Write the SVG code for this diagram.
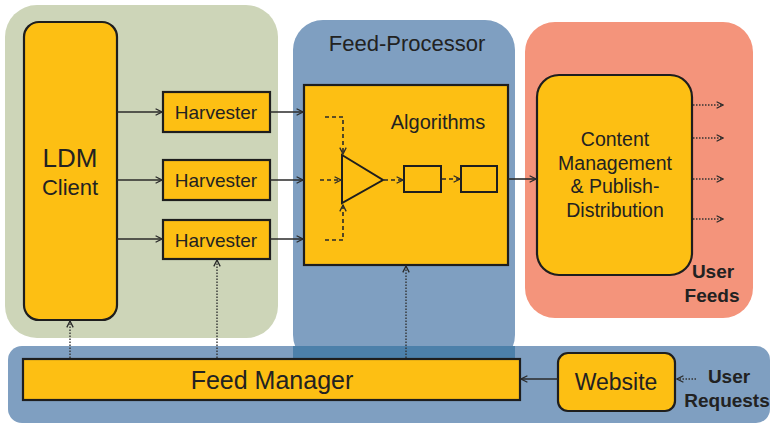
<svg xmlns="http://www.w3.org/2000/svg" width="772" height="426" viewBox="0 0 772 426">
<defs>
<style>
.box{fill:#fdbf13;stroke:#1e1e1e;stroke-width:2.2}
.t{font-family:"Liberation Sans",Arial,sans-serif;fill:#222;text-anchor:middle}
.b{font-weight:bold}
.ln{stroke:#2a2a2a;stroke-width:1.6;fill:none}
.dash{stroke:#2a2a2a;stroke-width:1.6;fill:none;stroke-dasharray:4 3}
.dot{stroke:#333;stroke-width:1.4;fill:none;stroke-dasharray:1.5 1.5}
</style>
<marker id="ah" viewBox="0 0 10 10" refX="9" refY="5" markerWidth="8" markerHeight="8" markerUnits="userSpaceOnUse" orient="auto">
<path d="M1,1 L9,5 L1,9" fill="none" stroke="#2a2a2a" stroke-width="1.6"/>
</marker>
</defs>
<rect width="772" height="426" fill="#ffffff"/>
<g id="panels">
<rect x="5" y="5" width="273" height="333" rx="32" fill="#cdd5b8"/>
<rect x="293" y="20" width="222" height="345" rx="30" fill="#7f9fc1"/>
<rect x="525" y="22" width="228" height="296" rx="30" fill="#f4947b"/>
<rect x="8" y="346" width="762" height="77" rx="14" fill="#7f9fc1"/>
<rect x="293" y="346" width="222" height="14" fill="#4c80aa"/>
</g>
<text class="t" x="407" y="51" font-size="22">Feed-Processor</text>
<g id="ldm">
<rect class="box" x="24" y="22" width="93" height="298" rx="15"/>
<text class="t" x="70" y="167" font-size="26">LDM</text>
<text class="t" x="70" y="195" font-size="22">Client</text>
</g>
<g id="harvester1">
<rect class="box" x="163" y="92" width="107" height="40"/>
<text class="t" x="216" y="119" font-size="19">Harvester</text>
</g>
<g id="harvester2">
<rect class="box" x="163" y="160" width="107" height="40"/>
<text class="t" x="216" y="187" font-size="19">Harvester</text>
</g>
<g id="harvester3">
<rect class="box" x="163" y="220" width="107" height="39"/>
<text class="t" x="216" y="247" font-size="19">Harvester</text>
</g>
<g id="algorithms">
<rect class="box" x="304" y="85" width="204" height="180"/>
<text class="t" x="438" y="129" font-size="20">Algorithms</text>
<polygon points="342,155 383,180 342,203" fill="none" stroke="#1e1e1e" stroke-width="2"/>
<rect x="404" y="166" width="37" height="26" fill="none" stroke="#1e1e1e" stroke-width="2"/>
<rect x="461" y="166" width="36" height="26" fill="none" stroke="#1e1e1e" stroke-width="2"/>
<path class="dash" d="M325,117 H343 V154" marker-end="url(#ah)"/>
<path class="dash" d="M325,240 H343 V205" marker-end="url(#ah)"/>
<path class="dash" d="M320,180 H341" marker-end="url(#ah)"/>
<path class="dash" d="M384,180 H403" marker-end="url(#ah)"/>
<path class="dash" d="M442,179 H460" marker-end="url(#ah)"/>
</g>
<g id="content">
<rect class="box" x="537" y="75" width="155" height="200" rx="22"/>
<text class="t" x="615" y="146" font-size="19.5">Content</text>
<text class="t" x="615" y="170" font-size="19.5">Management</text>
<text class="t" x="615" y="193" font-size="19.5">&amp; Publish-</text>
<text class="t" x="615" y="217" font-size="19.5">Distribution</text>
</g>
<text class="t b" x="713" y="278" font-size="19">User</text>
<text class="t b" x="712" y="302" font-size="19">Feeds</text>
<g id="feedmanager">
<rect class="box" x="23" y="359" width="497" height="41"/>
<text class="t" x="272" y="389" font-size="25">Feed Manager</text>
</g>
<g id="website">
<rect class="box" x="558" y="353" width="117" height="58" rx="10"/>
<text class="t" x="616" y="390" font-size="23">Website</text>
</g>
<text class="t b" x="729" y="383" font-size="19">User</text>
<text class="t b" x="727" y="407" font-size="19">Requests</text>
<g id="connectors">
<path class="ln" d="M117,112 H162" marker-end="url(#ah)"/>
<path class="ln" d="M117,180 H162" marker-end="url(#ah)"/>
<path class="ln" d="M117,239 H162" marker-end="url(#ah)"/>
<path class="ln" d="M270,112 H303" marker-end="url(#ah)"/>
<path class="ln" d="M270,180 H303" marker-end="url(#ah)"/>
<path class="ln" d="M270,239 H303" marker-end="url(#ah)"/>
<path class="ln" d="M508,179 H536" marker-end="url(#ah)"/>
<path class="dot" d="M693,105 H723" marker-end="url(#ah)"/>
<path class="dot" d="M693,138 H723" marker-end="url(#ah)"/>
<path class="dot" d="M693,179 H723" marker-end="url(#ah)"/>
<path class="dot" d="M693,219 H723" marker-end="url(#ah)"/>
<path class="ln" d="M558,379 H521" marker-end="url(#ah)"/>
<path class="dot" d="M696,379 H677" marker-end="url(#ah)"/>
<path class="dot" d="M70,358 V321" marker-end="url(#ah)"/>
<path class="dot" d="M217,358 V260" marker-end="url(#ah)"/>
<path class="dot" d="M406,358 V266" marker-end="url(#ah)"/>
</g>
</svg>
